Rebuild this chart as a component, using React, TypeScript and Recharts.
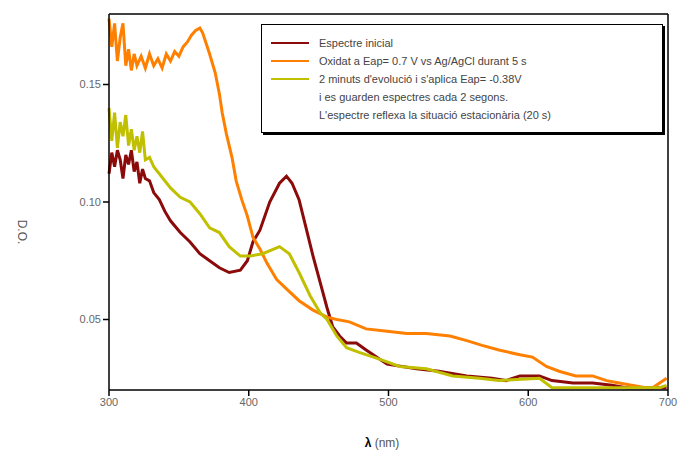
import React from 'react';
import { LineChart, Line, XAxis, YAxis, ReferenceLine } from 'recharts';

// wavelengths (nm) and optical densities, one pair of arrays per spectrum
const initialNm = [300, 302, 304, 306, 308, 310, 312, 314, 316, 318, 320, 322, 324, 326, 329, 332, 336, 340, 344, 351, 358, 365, 372, 379, 386, 394, 399, 403, 408, 415, 422, 427, 431, 436, 441, 446, 451, 456, 460, 465, 470, 477, 484, 499, 520, 536, 556, 574, 584, 594, 608, 617, 632, 646, 660, 670, 684, 699];
const initialOD = [0.112, 0.121, 0.115, 0.122, 0.118, 0.11, 0.12, 0.116, 0.122, 0.113, 0.117, 0.108, 0.114, 0.11, 0.109, 0.104, 0.101, 0.096, 0.092, 0.087, 0.083, 0.078, 0.075, 0.072, 0.07, 0.071, 0.075, 0.083, 0.088, 0.1, 0.108, 0.111, 0.108, 0.101, 0.089, 0.077, 0.066, 0.055, 0.047, 0.043, 0.04, 0.04, 0.037, 0.031, 0.029, 0.028, 0.026, 0.025, 0.024, 0.026, 0.026, 0.024, 0.023, 0.023, 0.022, 0.021, 0.021, 0.021];

const oxidisedNm = [300, 302, 304, 306, 308, 310, 312, 314, 316, 318, 320, 323, 326, 329, 332, 335, 338, 341, 344, 347, 350, 353, 356, 359, 362, 365, 367, 372, 376, 379, 381, 384, 388, 391, 395, 399, 403, 408, 413, 417, 420, 427, 436, 446, 456, 463, 472, 484, 499, 513, 527, 544, 556, 567, 579, 594, 603, 613, 622, 634, 646, 656, 665, 674, 684, 689, 694, 699];
const oxidisedOD = [0.178, 0.166, 0.176, 0.16, 0.17, 0.176, 0.158, 0.165, 0.156, 0.163, 0.158, 0.162, 0.157, 0.163, 0.158, 0.161, 0.157, 0.163, 0.16, 0.164, 0.162, 0.166, 0.168, 0.171, 0.173, 0.174, 0.172, 0.163, 0.155, 0.146, 0.138, 0.129, 0.119, 0.109, 0.101, 0.094, 0.085, 0.08, 0.074, 0.07, 0.067, 0.063, 0.058, 0.054, 0.051, 0.05, 0.049, 0.046, 0.045, 0.044, 0.044, 0.043, 0.041, 0.039, 0.037, 0.035, 0.034, 0.03, 0.028, 0.026, 0.026, 0.024, 0.023, 0.022, 0.021, 0.021, 0.023, 0.025];

const reducedNm = [300, 302, 304, 306, 308, 310, 312, 314, 316, 318, 320, 322, 324, 326, 329, 332, 336, 344, 351, 358, 365, 372, 379, 386, 394, 401, 410, 422, 429, 436, 444, 451, 456, 463, 470, 479, 494, 508, 527, 546, 565, 579, 608, 617, 646, 679, 694, 699];
const reducedOD = [0.14, 0.126, 0.138, 0.123, 0.134, 0.128, 0.137, 0.124, 0.131, 0.122, 0.128, 0.121, 0.13, 0.118, 0.119, 0.115, 0.112, 0.106, 0.102, 0.1, 0.095, 0.089, 0.087, 0.081, 0.077, 0.077, 0.078, 0.081, 0.078, 0.07, 0.06, 0.053, 0.05, 0.043, 0.038, 0.036, 0.033, 0.03, 0.029, 0.026, 0.025, 0.024, 0.025, 0.021, 0.021, 0.021, 0.021, 0.022];

const legendLabels = [
  'Espectre inicial',
  'Oxidat a Eap= 0.7 V vs Ag/AgCl durant 5 s',
  "2 minuts d'evolució i s'aplica Eap= -0.38V",
  'i es guarden espectres cada 2 segons.',
  "L'espectre reflexa la situació estacionària (20 s)",
];
const xTicks = [300, 400, 500, 600, 700];
const yTicks = [0.05, 0.1, 0.15];

const pairs = (xs: number[], ys: number[]) => xs.map((nm, i) => ({ nm, od: ys[i] }));

const series = [
  { name: legendLabels[0], color: '#8b0a0a', data: pairs(initialNm, initialOD) },
  { name: legendLabels[1], color: '#ff8000', data: pairs(oxidisedNm, oxidisedOD) },
  { name: legendLabels[2], color: '#c0c000', data: pairs(reducedNm, reducedOD) },
];

const font = '"Liberation Sans", Arial, sans-serif';

const LegendBox = () => (
  <div
    style={{
      position: 'absolute',
      left: 261,
      top: 24,
      width: 402,
      height: 109,
      border: '1px solid #000',
      boxShadow: '2px 2px 0 #000',
      background: '#fff',
      fontFamily: font,
      fontSize: 11,
      color: '#444',
      boxSizing: 'border-box',
      padding: '9px 0 0 9px',
    }}
  >
    {legendLabels.map((label, i) => (
      <div key={label} style={{ display: 'flex', alignItems: 'center', height: 18 }}>
        <span
          style={{
            display: 'inline-block',
            width: 38,
            height: 2,
            marginRight: 10,
            background: i < 3 ? series[i].color : 'transparent',
          }}
        />
        <span>{label}</span>
      </div>
    ))}
  </div>
);

const YTitle = () => (
  <text x={22} y={232} transform="rotate(90 22 232)" textAnchor="middle" dominantBaseline="central" fontFamily={font} fontSize={12} fill="#555">
    D.O.
  </text>
);

const XTitle = () => (
  <text x={382} y={443} textAnchor="middle" dominantBaseline="central" fontFamily={font} fontSize={12} fill="#555">
    <tspan fontWeight="bold" fill="#000">λ</tspan> (nm)
  </text>
);

export default function App() {
  return (
    <div style={{ position: 'absolute', left: 0, top: 0, width: 680, height: 452, background: '#fff' }}>
      <LineChart width={680} height={452} margin={{ top: 14, right: 12, left: 0, bottom: 22 }}>
        <XAxis
          dataKey="nm"
          type="number"
          domain={[300, 700]}
          ticks={xTicks}
          allowDuplicatedCategory={false}
          height={40}
          stroke="#000"
          strokeWidth={1.5}
          tickSize={6}
          tick={{ fill: '#666', fontSize: 11, fontFamily: font }}
          label={{ content: XTitle }}
        />
        <YAxis
          type="number"
          domain={[0.02, 0.18]}
          ticks={yTicks}
          allowDataOverflow
          width={109}
          stroke="#000"
          strokeWidth={1.5}
          tickSize={6}
          tickFormatter={(v: number) => v.toFixed(2)}
          tick={{ fill: '#666', fontSize: 11, fontFamily: font }}
          label={{ content: YTitle }}
        />
        <ReferenceLine y={0.18} stroke="#000" strokeWidth={1.5} />
        <ReferenceLine x={700} stroke="#000" strokeWidth={1.5} />
        {series.map((s) => (
          <Line
            key={s.name}
            data={s.data}
            dataKey="od"
            name={s.name}
            type="linear"
            stroke={s.color}
            strokeWidth={3}
            dot={false}
            isAnimationActive={false}
          />
        ))}
      </LineChart>
      <LegendBox />
    </div>
  );
}
